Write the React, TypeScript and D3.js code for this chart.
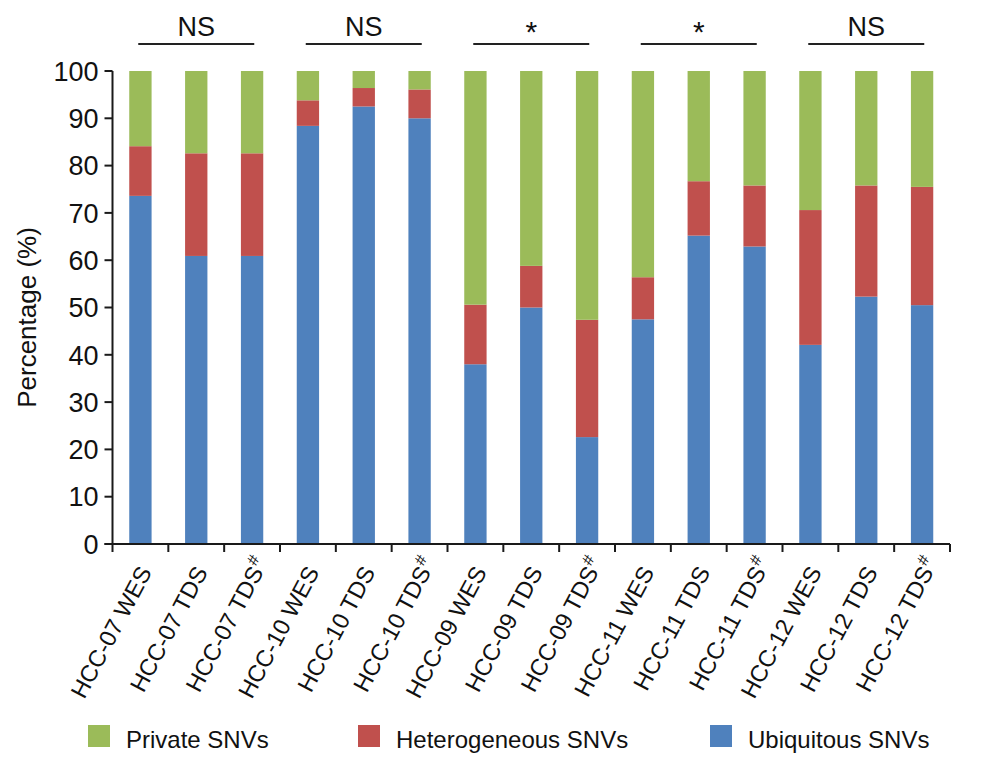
import React from "react";
import * as d3 from "d3";

const categories = [
  "HCC-07 WES", "HCC-07 TDS", "HCC-07 TDS#",
  "HCC-10 WES", "HCC-10 TDS", "HCC-10 TDS#",
  "HCC-09 WES", "HCC-09 TDS", "HCC-09 TDS#",
  "HCC-11 WES", "HCC-11 TDS", "HCC-11 TDS#",
  "HCC-12 WES", "HCC-12 TDS", "HCC-12 TDS#",
];
const ubiquitous = [73.6, 60.9, 60.9, 88.4, 92.5, 90.0, 38.0, 50.0, 22.6, 47.5, 65.2, 62.9, 42.1, 52.3, 50.5];
const heterogeneous = [10.5, 21.7, 21.7, 5.4, 3.9, 6.1, 12.6, 8.8, 24.8, 8.9, 11.5, 12.9, 28.5, 23.5, 25.0];
const privateSNV = [15.9, 17.4, 17.4, 6.2, 3.6, 3.9, 49.4, 41.2, 52.6, 43.6, 23.3, 24.2, 29.4, 24.2, 24.5];
const yTicks = [0, 10, 20, 30, 40, 50, 60, 70, 80, 90, 100];
const groupLabels = ["NS", "NS", "*", "*", "NS"];
const seriesNames = ["Private SNVs", "Heterogeneous SNVs", "Ubiquitous SNVs"];

const COLORS = { ubi: "#4F81BD", het: "#C0504D", pri: "#9BBB59" };
const FONT = "'Liberation Sans', Arial, sans-serif";

export default function App() {
  const W = 984, H = 766;
  const x = d3.scaleBand<string>().domain(categories).range([112.5, 950]).paddingInner(0.6).paddingOuter(0.3);
  const y = d3.scaleLinear().domain([0, 100]).range([544, 71]);
  const step = x.step();
  const x0 = x.range()[0];
  const bw = x.bandwidth();

  const rows = categories.map((c, i) => ({ c, u: ubiquitous[i], h: heterogeneous[i], p: privateSNV[i] }));
  const stack = d3.stack<any>().keys(["u", "h", "p"])(rows as any);
  const keyColor: Record<string, string> = { u: COLORS.ubi, h: COLORS.het, p: COLORS.pri };

  const legendColors = [COLORS.pri, COLORS.het, COLORS.ubi];
  const legendX = [88, 358, 710];

  return (
    <svg width={W} height={H} style={{ position: "absolute", left: 0, top: 0, background: "#fff" }} fontFamily={FONT}>
      <rect x={0} y={0} width={W} height={H} fill="#fff" />
      {stack.map((s) => (
        <g key={s.key} fill={keyColor[s.key]}>
          {s.map((d, i) => (
            <rect key={i} x={x(categories[i])} y={y(d[1])} width={bw} height={y(d[0]) - y(d[1])} />
          ))}
        </g>
      ))}
      <line x1={x0} x2={x0} y1={y(100)} y2={y(0)} stroke="#1a1a1a" strokeWidth={2} />
      {yTicks.map((t) => (
        <g key={t}>
          <line x1={x0 - 8} x2={x0} y1={y(t)} y2={y(t)} stroke="#1a1a1a" strokeWidth={2} />
          <text x={x0 - 14} y={y(t)} dy="0.36em" textAnchor="end" fontSize={27} fill="#111">{t}</text>
        </g>
      ))}
      <line x1={x0 - 8} x2={x.range()[1]} y1={y(0)} y2={y(0)} stroke="#1a1a1a" strokeWidth={2} />
      {d3.range(categories.length + 1).map((i) => (
        <line key={i} x1={x0 + i * step} x2={x0 + i * step} y1={y(0)} y2={y(0) + 8} stroke="#1a1a1a" strokeWidth={2} />
      ))}
      {categories.map((c) => {
        const cx = (x(c) as number) + bw / 2;
        const hasHash = c.endsWith("#");
        const label = hasHash ? c.slice(0, -1) : c;
        return (
          <g key={c} transform={`translate(${cx + 12},${572}) rotate(-62)`}>
            <text textAnchor="end" fontSize={23.5} fill="#111">{label}</text>
            {hasHash && <text x={1} y={-10} fontSize={16} fill="#111">#</text>}
          </g>
        );
      })}
      <text transform={`translate(36,${(y(0) + y(100)) / 2 + 10}) rotate(-90)`} textAnchor="middle" fontSize={26} fill="#111">Percentage (%)</text>
      {groupLabels.map((g, gi) => {
        const cx = (x(categories[gi * 3 + 1]) as number) + bw / 2;
        return (
          <g key={gi}>
            <line x1={cx - 58} x2={cx + 58} y1={44} y2={44} stroke="#222" strokeWidth={2} />
            <text x={cx} y={g === "*" ? 42 : 36} textAnchor="middle" fontSize={g === "*" ? 30 : 27} fill="#111">{g}</text>
          </g>
        );
      })}
      {seriesNames.map((n, i) => (
        <g key={n}>
          <rect x={legendX[i]} y={725} width={22} height={22} fill={legendColors[i]} />
          <text x={legendX[i] + 38} y={748} fontSize={24} fill="#111">{n}</text>
        </g>
      ))}
    </svg>
  );
}
